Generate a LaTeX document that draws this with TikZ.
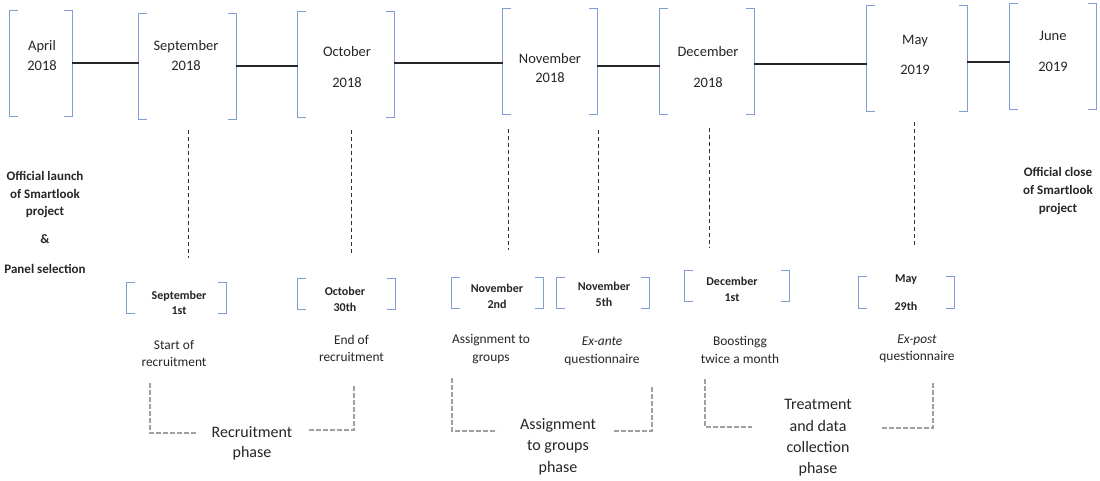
\documentclass[tikz,border=0pt]{standalone}
\usepackage{fontspec}
\setmainfont{Carlito}
\usetikzlibrary{calc}
\definecolor{brkblue}{RGB}{128,157,214}
\definecolor{txtgray}{RGB}{38,38,38}
\definecolor{phgray}{RGB}{160,160,160}
% blue square brackets round a node
\newcommand{\brackets}[1]{%
  \draw[brk] ([xshift=8pt]#1.north west) -- (#1.north west) -- (#1.south west) -- ([xshift=8pt]#1.south west);
  \draw[brk] ([xshift=-8pt]#1.north east) -- (#1.north east) -- (#1.south east) -- ([xshift=-8pt]#1.south east);}

\begin{document}
\begin{tikzpicture}[x=1pt, y=-1pt,
  every node/.style={text=txtgray},
  mbox/.style={minimum height=105pt, inner sep=0pt},
  ebox/.style={minimum height=31pt, inner sep=0pt},
  mtext/.style={align=center, font=\fontsize{14.5}{19}\selectfont},
  etext/.style={align=center, font=\bfseries\fontsize{12}{15.5}\selectfont},
  desc/.style={align=center, font=\fontsize{13.4}{17.5}\selectfont},
  note/.style={align=center, font=\bfseries\fontsize{13}{17.5}\selectfont},
  phase/.style={align=center, font=\fontsize{16}{21.3}\selectfont},
  brk/.style={draw=brkblue, line width=1pt},
  tl/.style={draw=txtgray, line width=1.5pt},
  vd/.style={draw=black!80, line width=0.9pt, dash pattern=on 4pt off 3pt},
  phs/.style={draw=phgray, line width=2.6pt, dash pattern=on 5pt off 2pt}]
\useasboundingbox (0,0) rectangle (1100,480);
\fill[white] (0,0) rectangle (1100,480);

% months on the time line
\node[mbox, minimum width=62pt] (apr) at (41,63.5) {};
\node[mbox, minimum width=97pt] (sep) at (187.5,66.5) {};
\node[mbox, minimum width=96pt] (oct) at (346,64.5) {};
\node[mbox, minimum width=94pt] (nov) at (550,61.5) {};
\node[mbox, minimum width=94pt] (dec) at (707,61.5) {};
\node[mbox, minimum width=100pt] (may) at (917,58.5) {};
\node[mbox, minimum width=86pt] (jun) at (1053,56.5) {};
\node[mtext] (apr-t) at (42,56) {April\\[1pt]2018};
\node[mtext] (sep-t) at (186,55.5) {September\\[0.5pt]2018};
\node[mtext] (oct-t) at (347,67.5) {October\\[12pt]2018};
\node[mtext] (nov-t) at (550,68.5) {November\\2018};
\node[mtext] (dec-t) at (708,67.5) {December\\[12pt]2018};
\node[mtext] (may-t) at (915,55) {May\\[11pt]2019};
\node[mtext] (jun-t) at (1053,51.5) {June\\[12pt]2019};
\foreach \m in {apr,sep,oct,nov,dec,may,jun} {\brackets{\m}}

\draw[tl] (apr.east |- 0,63) -- (sep.west |- 0,63);
\draw[tl] (sep.east |- 0,66) -- (oct.west |- 0,66);
\draw[tl] (oct.east |- 0,63) -- (nov.west |- 0,63);
\draw[tl] (nov.east |- 0,66) -- (dec.west |- 0,66);
\draw[tl] (dec.east |- 0,64) -- (may.west |- 0,64);
\draw[tl] (may.east |- 0,62) -- (jun.west |- 0,62);

% dated events
\node[ebox, minimum width=99pt] (s1) at (176.5,298) {};
\node[ebox, minimum width=97pt] (o30) at (346.5,294) {};
\node[ebox, minimum width=91pt] (n2) at (497.5,293) {};
\node[ebox, minimum width=92pt] (n5) at (603,293) {};
\node[ebox, minimum width=104pt, minimum height=30pt] (d1) at (737,286) {};
\node[ebox, minimum width=95pt] (m29) at (906.5,292.5) {};
\node[etext] (s1-t) at (179,303) {September\\1st};
\node[etext] (o30-t) at (345,299.5) {October\\30th};
\node[etext] (n2-t) at (497,296.5) {November\\2nd};
\node[etext] (n5-t) at (604,294.5) {November\\5th};
\node[etext] (d1-t) at (732,289.5) {December\\1st};
\node[etext] (m29-t) at (906,293) {May\\[12.5pt]29th};
\foreach \e in {s1,o30,n2,n5,d1,m29} {\brackets{\e}}

\draw[vd] ([shift={(0.5pt,-11pt)}]sep.south) -- ([shift={(0.5pt,24.5pt)}]sep.south |- s1.north);
\draw[vd] ([shift={(5pt,-13pt)}]oct.south) -- ([shift={(5pt,25pt)}]oct.south |- o30.north);
\draw[vd] ([shift={(-42pt,-15pt)}]nov.south) -- ([shift={(-42pt,27.5pt)}]nov.south |- n2.north);
\draw[vd] ([shift={(48pt,-16pt)}]nov.south) -- ([shift={(48pt,24pt)}]nov.south |- n5.north);
\draw[vd] ([shift={(2pt,-14pt)}]dec.south) -- ([shift={(2pt,23pt)}]dec.south |- d1.north);
\draw[vd] ([shift={(-3pt,-11pt)}]may.south) -- ([shift={(-3pt,29pt)}]may.south |- m29.north);

\node[desc] (s1-d) at (174,353.5) {Start of\\recruitment};
\node[desc] (o30-d) at (351.5,348.5) {End of\\recruitment};
\node[desc] (n2-d) at (491,349) {Assignment to\\groups};
\node[desc] (n5-d) at (602,351.5) {\textit{Ex-ante}\\questionnaire};
\node[desc] (d1-d) at (740,350) {Boostingg\\twice a month};
\node[desc] (m29-d) at (917,349) {\textit{Ex-post}\\questionnaire};

% start and end of the project
\node[note] (launch) at (45,222.5) {Official launch\\of Smartlook\\project\\[10.5pt]\&\\[12.5pt]Panel selection};
\node[note, font=\bfseries\fontsize{13}{18}\selectfont] (close) at (1058,191) {Official close\\of Smartlook\\project};

% phases
\draw[phs] (150,383) -- (150,433) -- (198,433);
\draw[phs] (309,430) -- (354,430) -- (354,385);
\draw[phs] (452,378) -- (452,431) -- (497,431);
\draw[phs] (614,431) -- (652,431) -- (652,386);
\draw[phs] (705,379) -- (705,427) -- (752,427);
\draw[phs] (882,428) -- (933,428) -- (933,383);
\node[phase, font=\fontsize{16}{20}\selectfont] (rec) at (252,443) {Recruitment\\phase};
\node[phase, font=\fontsize{16}{21.5}\selectfont] (asg) at (558,446.5) {Assignment\\to groups\\phase};
\node[phase] (trt) at (818,438) {Treatment\\and data\\collection\\phase};
\end{tikzpicture}
\end{document}
